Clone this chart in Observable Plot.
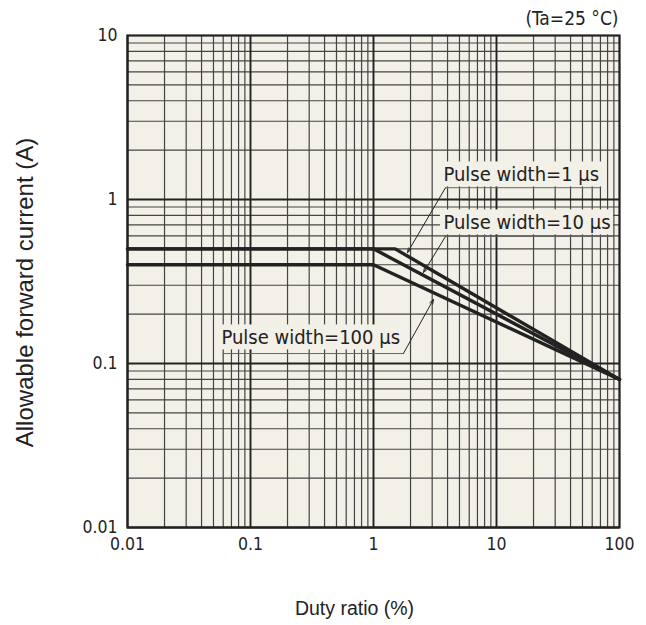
<!DOCTYPE html>
<html>
<head>
<meta charset="utf-8">
<script src="https://cdn.jsdelivr.net/npm/d3@7"></script>
<script src="https://cdn.jsdelivr.net/npm/@observablehq/plot@0.6"></script>
<style>
  html, body { margin: 0; padding: 0; background: #fff; }
</style>
</head>
<body>
<div id="chart"></div>
<script>
// ---- data ----
const xTicks = [0.01, 0.1, 1, 10, 100];
const xTickLabels = ["0.01", "0.1", "1", "10", "100"];
const yTicks = [0.01, 0.1, 1, 10];
const yTickLabels = ["0.01", "0.1", "1", "10"];
const xDecades = [0.01, 0.1, 1, 10];
const yDecades = [0.01, 0.1, 1];
const gridMultipliers = [1, 2, 3, 4, 5, 6, 7, 8, 9];

const duty1us = [0.01, 1.5, 100];
const current1us = [0.5, 0.5, 0.08];
const duty10us = [0.01, 1, 100];
const current10us = [0.5, 0.5, 0.08];
const duty100us = [0.01, 1, 100];
const current100us = [0.4, 0.4, 0.08];

const annLabels = ["Pulse width=1 µs", "Pulse width=10 µs", "Pulse width=100 µs"];
const annTextX = [3.7, 3.7, 0.058];
const annTextY = [1.42, 0.724, 0.144];
const annLineY = [1.18, 0.595, 0.115];
const annLineX1 = [3.85, 3.85, 0.0592];
const annLineX2 = [70, 87.7, 1.75];
const annTipX = [1.89, 2.55, 3.07];
const annTipY = [0.475, 0.359, 0.2455];
const annLeaderFrom = ["start", "start", "end"];

const condition = "(Ta=25 °C)";
const xTitle = "Duty ratio (%)";
const yTitle = "Allowable forward current (A)";

// ---- derived tables ----
const xGrid = xDecades.flatMap(d => gridMultipliers.map(m => d * m)).concat([100]);
const yGrid = yDecades.flatMap(d => gridMultipliers.map(m => d * m)).concat([10]);
const series = [
  ...duty1us.map((d, i) => ({series: "1us", duty: d, current: current1us[i]})),
  ...duty10us.map((d, i) => ({series: "10us", duty: d, current: current10us[i]})),
  ...duty100us.map((d, i) => ({series: "100us", duty: d, current: current100us[i]}))
];
const ann = annLabels.map((label, i) => ({
  label, tx: annTextX[i], ty: annTextY[i], ly: annLineY[i],
  lx1: annLineX1[i], lx2: annLineX2[i],
  fx: annLeaderFrom[i] === "start" ? annLineX1[i] : annLineX2[i],
  tipx: annTipX[i], tipy: annTipY[i]
}));

const bg = "#f2f0e7";
const ink = "#222";
const tickFont = "'DejaVu Sans Condensed', 'DejaVu Sans', sans-serif";
const titleFont = "'Liberation Sans', Arial, sans-serif";

const chart = Plot.plot({
  width: 646,
  height: 625,
  marginLeft: 127,
  marginRight: 27,
  marginTop: 35,
  marginBottom: 98,
  style: {fontFamily: tickFont, fontSize: "17.5px", color: ink, background: "#fff"},
  x: {type: "log", domain: [0.01, 100]},
  y: {type: "log", domain: [0.01, 10]},
  marks: [
    Plot.frame({fill: bg, stroke: null}),
    Plot.ruleX(xGrid, {stroke: "#444", strokeWidth: 1.2}),
    Plot.ruleY(yGrid, {stroke: "#444", strokeWidth: 1.2}),
    Plot.ruleX(xDecades, {stroke: ink, strokeWidth: 1.8}),
    Plot.ruleY(yDecades, {stroke: ink, strokeWidth: 1.8}),
    Plot.line(series, {x: "duty", y: "current", z: "series", stroke: ink, strokeWidth: 3.4}),
    Plot.text(ann, {x: "tx", y: "ty", text: "label", textAnchor: "start", lineAnchor: "middle", fill: ink, fontSize: 20}),
    Plot.link(ann, {x1: "lx1", x2: "lx2", y1: "ly", y2: "ly", stroke: "#666", strokeWidth: 1}),
    Plot.arrow(ann, {x1: "fx", y1: "ly", x2: "tipx", y2: "tipy", stroke: ink, strokeWidth: 1, headLength: 7, headAngle: 40}),
    Plot.frame({stroke: ink, strokeWidth: 2.2}),
    Plot.axisX(xTicks, {tickSize: 0, tickPadding: 10, tickFormat: d => xTickLabels[xTicks.indexOf(d)], fontSize: 17.5}),
    Plot.axisY(yTicks, {tickSize: 0, tickPadding: 10, tickFormat: d => yTickLabels[yTicks.indexOf(d)], fontSize: 17.5}),
    Plot.text([condition], {frameAnchor: "top-right", text: d => d, textAnchor: "end", lineAnchor: "middle", dy: -17, dx: -1, fontSize: 19}),
    Plot.text([xTitle], {frameAnchor: "bottom", text: d => d, textAnchor: "middle", lineAnchor: "middle", dy: 81, dx: -19, fontFamily: titleFont, fontSize: 19.5}),
    Plot.text([yTitle], {frameAnchor: "left", text: d => d, textAnchor: "middle", lineAnchor: "middle", dx: -102, dy: 11, rotate: -90, fontFamily: titleFont, fontSize: 24})
  ]
});
document.getElementById("chart").append(chart);

// background boxes behind annotation labels
const svgNS = "http://www.w3.org/2000/svg";
chart.querySelectorAll("text").forEach(t => {
  if (!annLabels.includes(t.textContent)) return;
  const b = t.getBBox();
  const r = document.createElementNS(svgNS, "rect");
  r.setAttribute("x", b.x - 3);
  r.setAttribute("y", b.y);
  r.setAttribute("width", b.width + 6);
  r.setAttribute("height", b.height + 1);
  r.setAttribute("fill", bg);
  const tr = t.getAttribute("transform");
  if (tr) r.setAttribute("transform", tr);
  const group = t.parentNode;
  group.parentNode.insertBefore(r, group);
});
</script>
</body>
</html>
